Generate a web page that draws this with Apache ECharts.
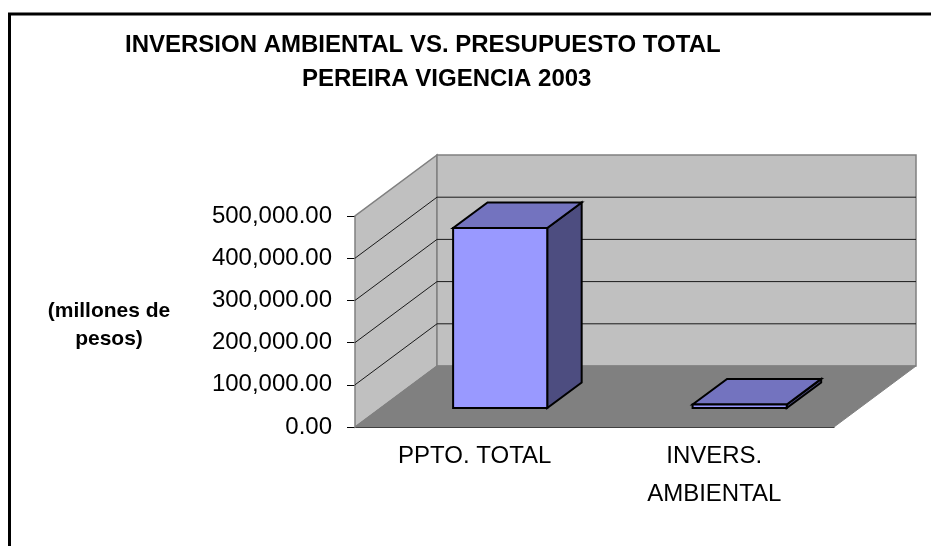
<!DOCTYPE html>
<html style="height: 100%">
<head>
<meta charset="UTF-8">
<title>Inversion ambiental</title>
<script src="https://cdn.jsdelivr.net/npm/echarts@6/dist/echarts.min.js"></script>
</head>
<body style="height: 100%;margin: 0;background:#fff">
<div id="chart" style="width:931px;height:546px"></div>
<script type="text/javascript">
// data (millones de pesos)
var categories = ['PPTO. TOTAL', 'INVERS.\nAMBIENTAL'];
var values = [426600, 8500];
var yTicks = [0, 100000, 200000, 300000, 400000, 500000];
var titleLines = ['INVERSION AMBIENTAL VS. PRESUPUESTO TOTAL', 'PEREIRA VIGENCIA 2003'];
var yName = '(millones de\npesos)';

// 3d look: how far the back wall sits from the front plane
var DEPTH = [82, -61];
var BAR_RATIO = 0.393;
var BAR_FRONT = 0.31, BAR_BACK = 0.73;
var FONT = 'Liberation Sans, Arial, sans-serif';

function fmt(v){
	var s = Math.round(v).toString().replace(/\B(?=(\d{3})+(?!\d))/g, ',');
	return s + '.00';
}

//walls, floor and gridlines
function renderWalls(params, api){
	var cs = params.coordSys;
	var x0 = cs.x, x1 = cs.x + cs.width;
	var yb = api.coord([0, yTicks[0]])[1];
	var yt = api.coord([0, yTicks[yTicks.length-1]])[1];
	var dx = DEPTH[0], dy = DEPTH[1];
	var kids = [];
	kids.push({type:'polygon', shape:{points:[[x0,yb],[x0,yt],[x0+dx,yt+dy],[x0+dx,yb+dy]]},
		style:{fill:'#c0c0c0', stroke:'#808080', lineWidth:1.5}});
	kids.push({type:'polygon', shape:{points:[[x0+dx,yt+dy],[x1+dx,yt+dy],[x1+dx,yb+dy],[x0+dx,yb+dy]]},
		style:{fill:'#c0c0c0', stroke:'#808080', lineWidth:1.5}});
	kids.push({type:'polygon', shape:{points:[[x0,yb],[x0+dx,yb+dy],[x1+dx,yb+dy],[x1,yb]]},
		style:{fill:'#808080', stroke:'#808080', lineWidth:1}});
	for(var i=1;i<yTicks.length-1;i++){
		var y = api.coord([0, yTicks[i]])[1];
		kids.push({type:'polyline', shape:{points:[[x0,y],[x0+dx,y+dy],[x1+dx,y+dy]]},
			style:{stroke:'#1a1a1a', lineWidth:1, fill:null}});
	}
	return {type:'group', children:kids};
}

//one 3d box per category
function renderBar(params, api){
	var c = api.value(0), v = api.value(1);
	var base = api.coord([c, 0]);
	var top = api.coord([c, v]);
	var bw = api.size([1, 0])[0] * BAR_RATIO;
	var fx = DEPTH[0]*BAR_FRONT, fy = DEPTH[1]*BAR_FRONT;
	var bx = DEPTH[0]*BAR_BACK, by = DEPTH[1]*BAR_BACK;
	var xl = base[0] - bw/2, xr = base[0] + bw/2;
	var yB = base[1], yT = top[1];
	var line = {stroke:'#000', lineWidth:2, lineJoin:'miter'};
	return {type:'group', children:[
		{type:'polygon', shape:{points:[[xr+fx,yT+fy],[xr+bx,yT+by],[xr+bx,yB+by],[xr+fx,yB+fy]]},
			style:Object.assign({fill:'#4d4d80'}, line)},
		{type:'polygon', shape:{points:[[xl+fx,yT+fy],[xr+fx,yT+fy],[xr+bx,yT+by],[xl+bx,yT+by]]},
			style:Object.assign({fill:'#7373bf'}, line)},
		{type:'polygon', shape:{points:[[xl+fx,yT+fy],[xr+fx,yT+fy],[xr+fx,yB+fy],[xl+fx,yB+fy]]},
			style:Object.assign({fill:'#9999ff'}, line)}
	]};
}

var barData = [];
for(var i=0;i<values.length;i++){
	barData.push([i, values[i]]);
}

var myChart = echarts.init(document.getElementById('chart'));
var option = {
	backgroundColor: '#fff',
	animation: false,
	title: [
		{text: titleLines[0], left: 125, top: 33, padding: 0,
			textStyle:{fontFamily:FONT, fontWeight:'bold', fontSize:24, color:'#000'}},
		{text: titleLines[1], left: 302, top: 67, padding: 0,
			textStyle:{fontFamily:FONT, fontWeight:'bold', fontSize:24, color:'#000'}}
	],
	graphic: [
		{type:'rect', shape:{x:9.5, y:14, width:1000, height:1000}, silent:true,
			style:{fill:null, stroke:'#000', lineWidth:3}},
		{type:'text', x:109, y:297, silent:true,
			style:{text:yName, fill:'#000', font:'bold 21px ' + FONT, align:'center', lineHeight:28}}
	],
	grid: {left: 355, right: 97, top: 216, bottom: 119},
	xAxis: {
		type: 'category',
		data: categories,
		axisLine: {lineStyle:{color:'#000', width:1}},
		axisTick: {length:6, lineStyle:{color:'#000'}},
		axisLabel: {fontFamily:FONT, fontSize:24, color:'#000', margin:10, lineHeight:38, verticalAlign:'top'}
	},
	yAxis: {
		type: 'value',
		min: yTicks[0],
		max: yTicks[yTicks.length-1],
		interval: yTicks[1]-yTicks[0],
		axisLine: {show:true, lineStyle:{color:'#808080', width:1}},
		axisTick: {show:true, length:8, lineStyle:{color:'#000'}},
		splitLine: {show:false},
		axisLabel: {fontFamily:FONT, fontSize:24, color:'#000', margin:23, formatter:fmt}
	},
	series: [
		{type:'custom', name:'walls', data:[[0,0]], renderItem:renderWalls, silent:true, z:1},
		{type:'custom', name:'bars', data:barData, renderItem:renderBar, z:3}
	]
};
myChart.setOption(option);
</script>
</body>
</html>
